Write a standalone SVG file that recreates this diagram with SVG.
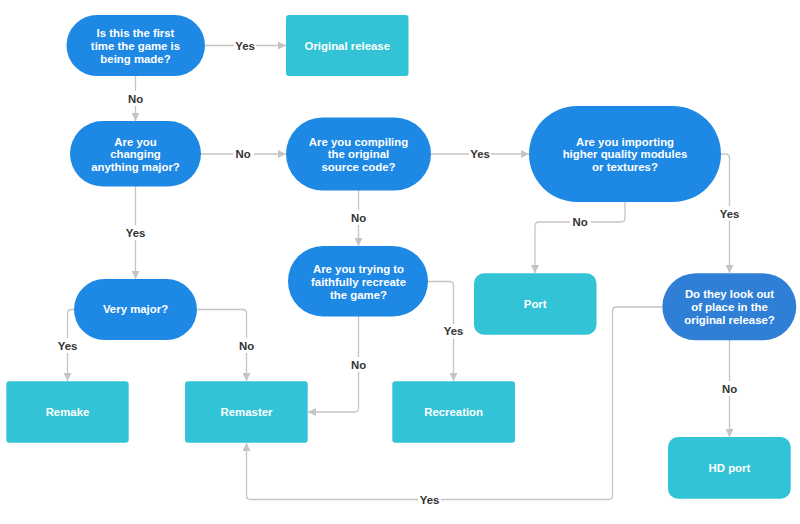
<svg xmlns="http://www.w3.org/2000/svg" width="800" height="524" viewBox="0 0 800 524">
<style>
.q{fill:#1E88E5}
.q2{fill:#2F7FD7}
.r{fill:#32C4D6}
.t{fill:#fff;font-family:"Liberation Sans",Arial,sans-serif;font-weight:bold;font-size:11.4px;text-anchor:middle}
.c{fill:none;stroke:#c4c4c4;stroke-width:1.3}
.l{fill:#333;font-family:"Liberation Sans",Arial,sans-serif;font-weight:bold;font-size:11.4px;text-anchor:middle}
.lb{fill:#fff}
</style>
<defs>
<marker id="a" viewBox="0 0 10 10" refX="10" refY="5" markerWidth="8" markerHeight="8" markerUnits="userSpaceOnUse" orient="auto">
<path d="M0,0 L10,5 L0,10 Z" fill="#c4c4c4"/>
</marker>
</defs>
<rect width="800" height="524" fill="#fff"/>
<g id="connectors">
<path class="c" d="M205,45.5 H286" marker-end="url(#a)"/>
<path class="c" d="M135.5,76 V121" marker-end="url(#a)"/>
<path class="c" d="M201,154 H286" marker-end="url(#a)"/>
<path class="c" d="M431,154 H529" marker-end="url(#a)"/>
<path class="c" d="M358.5,190 V246" marker-end="url(#a)"/>
<path class="c" d="M135.5,186 V279" marker-end="url(#a)"/>
<path class="c" d="M625,202 V218 Q625,222 621,222 H539 Q535,222 535,226 V273" marker-end="url(#a)"/>
<path class="c" d="M721,154 H725.5 Q729.5,154 729.5,158 V273" marker-end="url(#a)"/>
<path class="c" d="M74,309.5 H71.5 Q67.5,309.5 67.5,313.5 V381" marker-end="url(#a)"/>
<path class="c" d="M197,309.5 H242.5 Q246.5,309.5 246.5,313.5 V381" marker-end="url(#a)"/>
<path class="c" d="M358.5,316 V408 Q358.5,412 354.5,412 H308" marker-end="url(#a)"/>
<path class="c" d="M428,281.5 H449.5 Q453.5,281.5 453.5,285.5 V381" marker-end="url(#a)"/>
<path class="c" d="M662,307 H616.5 Q612.5,307 612.5,311 V495.5 Q612.5,499.5 608.5,499.5 H250.5 Q246.5,499.5 246.5,495.5 V443" marker-end="url(#a)"/>
<path class="c" d="M729.5,340 V437" marker-end="url(#a)"/>
<g id="labels">
<rect class="lb" x="234" y="38" width="22" height="15"/><text class="l" x="245" y="49.5">Yes</text>
<rect class="lb" x="125" y="91" width="21" height="15"/><text class="l" x="135.5" y="103">No</text>
<rect class="lb" x="233" y="147" width="21" height="15"/><text class="l" x="243" y="158.3">No</text>
<rect class="lb" x="469" y="147" width="22" height="15"/><text class="l" x="480" y="158.3">Yes</text>
<rect class="lb" x="348" y="210" width="21" height="15"/><text class="l" x="358.5" y="222">No</text>
<rect class="lb" x="124" y="225" width="23" height="15"/><text class="l" x="135.5" y="236.5">Yes</text>
<rect class="lb" x="570" y="215" width="21" height="15"/><text class="l" x="580" y="226.3">No</text>
<rect class="lb" x="718" y="206" width="23" height="15"/><text class="l" x="729.5" y="218">Yes</text>
<rect class="lb" x="56" y="338" width="23" height="15"/><text class="l" x="67.5" y="349.5">Yes</text>
<rect class="lb" x="236" y="338" width="21" height="15"/><text class="l" x="246.5" y="349.5">No</text>
<rect class="lb" x="348" y="357" width="21" height="15"/><text class="l" x="358.5" y="368.5">No</text>
<rect class="lb" x="442" y="324" width="23" height="15"/><text class="l" x="453.5" y="335">Yes</text>
<rect class="lb" x="418" y="492" width="23" height="15"/><text class="l" x="429.5" y="503.5">Yes</text>
<rect class="lb" x="719" y="381" width="21" height="15"/><text class="l" x="729.5" y="392.5">No</text>
</g>
</g>
<g id="n1"><rect class="q" x="66.5" y="15" width="138.5" height="61" rx="30.5"/>
<text class="t" x="135.5" y="36.9">Is this the first</text><text class="t" x="135.5" y="49.7">time the game is</text><text class="t" x="135.5" y="62.5">being made?</text></g>
<g id="n-original"><rect class="r" x="286" y="15" width="122.5" height="61" rx="3"/>
<text class="t" x="347.3" y="49.6">Original release</text></g>
<g id="n2"><rect class="q" x="70" y="121" width="131" height="65.5" rx="32.7"/>
<text class="t" x="135.5" y="145.5">Are you</text><text class="t" x="135.5" y="158.3">changing</text><text class="t" x="135.5" y="171.1">anything major?</text></g>
<g id="n3"><rect class="q" x="286" y="117.5" width="145" height="73" rx="36.5"/>
<text class="t" x="358.5" y="145.5">Are you compiling</text><text class="t" x="358.5" y="158.3">the original</text><text class="t" x="358.5" y="171.1">source code?</text></g>
<g id="n4"><rect class="q" x="529" y="106" width="192" height="96" rx="48"/>
<text class="t" x="625" y="145.5">Are you importing</text><text class="t" x="625" y="158.3">higher quality modules</text><text class="t" x="625" y="171.1">or textures?</text></g>
<g id="n5"><rect class="q" x="288" y="246" width="140" height="70.5" rx="35"/>
<text class="t" x="358.5" y="273.2">Are you trying to</text><text class="t" x="358.5" y="286">faithfully recreate</text><text class="t" x="358.5" y="298.8">the game?</text></g>
<g id="n6"><rect class="q" x="74" y="279" width="123" height="61" rx="30.5"/>
<text class="t" x="135.5" y="313.4">Very major?</text></g>
<g id="n-port"><rect class="r" x="474" y="273.3" width="122.5" height="61.4" rx="10"/>
<text class="t" x="535.2" y="308.1">Port</text></g>
<g id="n7"><rect class="q2" x="662.3" y="273.3" width="134" height="67" rx="33.5"/>
<text class="t" x="729.5" y="298.3">Do they look out</text><text class="t" x="729.5" y="311.1">of place in the</text><text class="t" x="729.5" y="323.9">original release?</text></g>
<g id="n-remake"><rect class="r" x="6.3" y="381.3" width="122.4" height="61.4" rx="3"/>
<text class="t" x="67.5" y="416.1">Remake</text></g>
<g id="n-remaster"><rect class="r" x="185" y="381.3" width="122.7" height="61.4" rx="3"/>
<text class="t" x="246.5" y="416.1">Remaster</text></g>
<g id="n-recreation"><rect class="r" x="392.3" y="381.3" width="122.7" height="61.4" rx="3"/>
<text class="t" x="453.6" y="416.1">Recreation</text></g>
<g id="n-hdport"><rect class="r" x="668" y="437" width="122.7" height="61.7" rx="10"/>
<text class="t" x="729.4" y="471.8">HD port</text></g>
</svg>
